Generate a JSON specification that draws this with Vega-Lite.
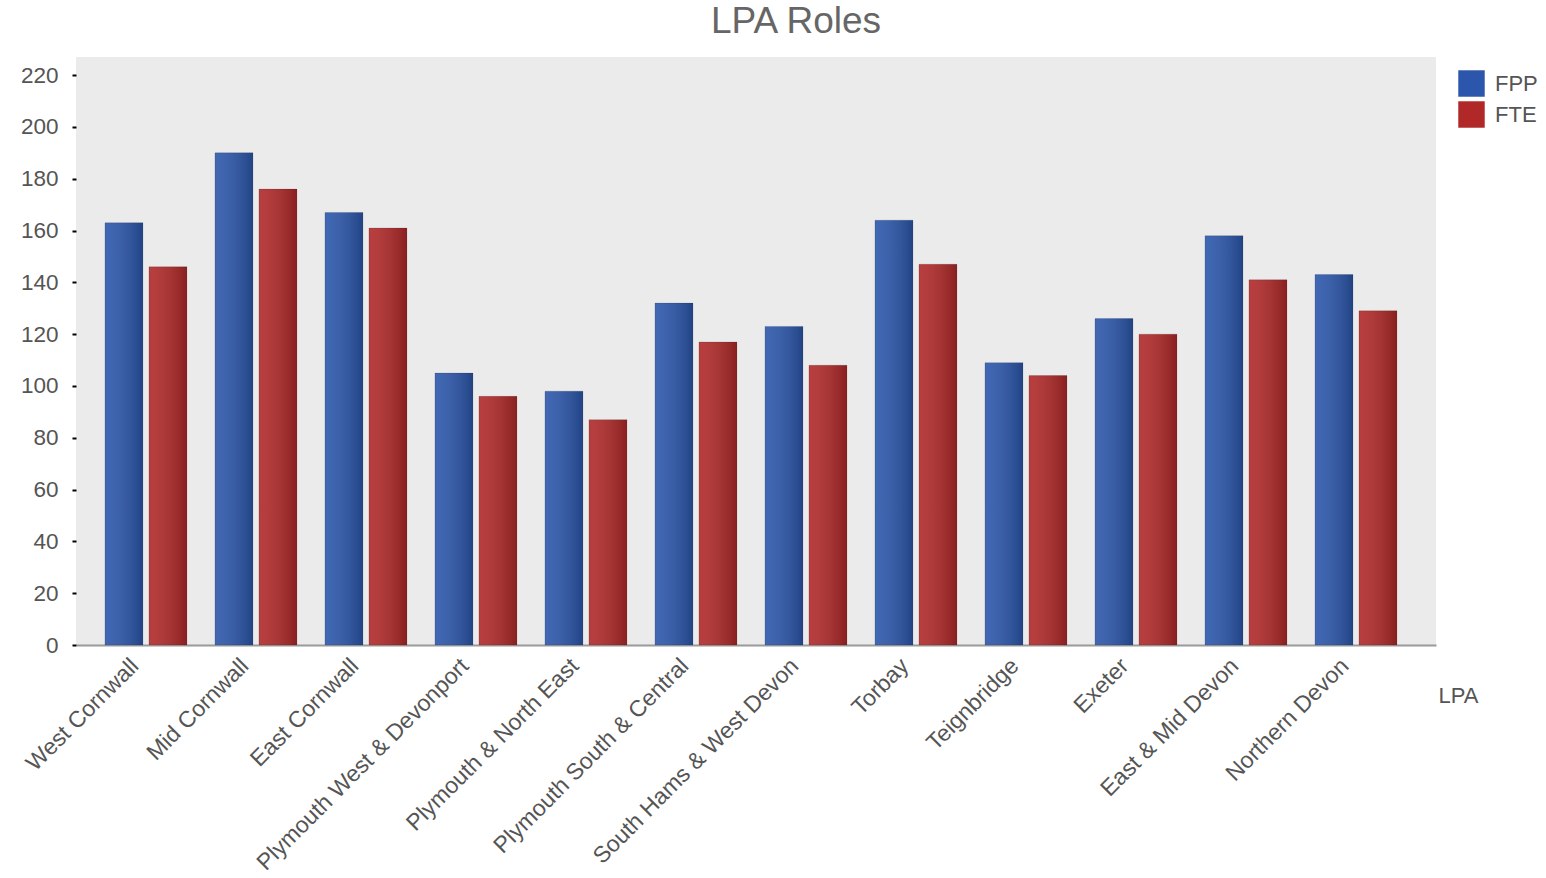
{
  "$schema": "https://vega.github.io/schema/vega-lite/v6.json",
  "description": "LPA Roles - FPP vs FTE by LPA",
  "autosize": "none",
  "width": 1360,
  "height": 588,
  "padding": {"left": 76, "top": 57, "right": 110, "bottom": 233},
  "background": "white",
  "title": {
    "text": "LPA Roles",
    "fontSize": 37,
    "fontWeight": "normal",
    "color": "#666666",
    "font": "Liberation Sans",
    "anchor": "middle",
    "baseline": "alphabetic",
    "offset": -13,
    "dx": 40
  },
  "data": {
    "values": [
      {"LPA": "West Cornwall", "Role": "FPP", "Count": 163},
      {"LPA": "West Cornwall", "Role": "FTE", "Count": 146},
      {"LPA": "Mid Cornwall", "Role": "FPP", "Count": 190},
      {"LPA": "Mid Cornwall", "Role": "FTE", "Count": 176},
      {"LPA": "East Cornwall", "Role": "FPP", "Count": 167},
      {"LPA": "East Cornwall", "Role": "FTE", "Count": 161},
      {"LPA": "Plymouth West & Devonport", "Role": "FPP", "Count": 105},
      {"LPA": "Plymouth West & Devonport", "Role": "FTE", "Count": 96},
      {"LPA": "Plymouth & North East", "Role": "FPP", "Count": 98},
      {"LPA": "Plymouth & North East", "Role": "FTE", "Count": 87},
      {"LPA": "Plymouth South & Central", "Role": "FPP", "Count": 132},
      {"LPA": "Plymouth South & Central", "Role": "FTE", "Count": 117},
      {"LPA": "South Hams & West Devon", "Role": "FPP", "Count": 123},
      {"LPA": "South Hams & West Devon", "Role": "FTE", "Count": 108},
      {"LPA": "Torbay", "Role": "FPP", "Count": 164},
      {"LPA": "Torbay", "Role": "FTE", "Count": 147},
      {"LPA": "Teignbridge", "Role": "FPP", "Count": 109},
      {"LPA": "Teignbridge", "Role": "FTE", "Count": 104},
      {"LPA": "Exeter", "Role": "FPP", "Count": 126},
      {"LPA": "Exeter", "Role": "FTE", "Count": 120},
      {"LPA": "East & Mid Devon", "Role": "FPP", "Count": 158},
      {"LPA": "East & Mid Devon", "Role": "FTE", "Count": 141},
      {"LPA": "Northern Devon", "Role": "FPP", "Count": 143},
      {"LPA": "Northern Devon", "Role": "FTE", "Count": 129}
    ]
  },
  "encoding": {
    "x": {
      "field": "LPA",
      "type": "nominal",
      "sort": null,
      "scale": {"paddingInner": 0.2545, "paddingOuter": 0.309, "align": 0.426},
      "axis": {
        "title": "LPA",
        "titleFont": "Liberation Sans",
        "titleFontSize": 22,
        "titleFontWeight": "normal",
        "titleColor": "#555555",
        "titleAlign": "left",
        "titleBaseline": "middle",
        "titleAnchor": null,
        "titleX": 1362,
        "titleY": 50,
        "labelAngle": -45,
        "labelAlign": "right",
        "labelBaseline": "middle",
        "labelPadding": 17,
        "labelOffset": -11,
        "labelFont": "Liberation Sans",
        "labelFontSize": 23,
        "labelColor": "#555555",
        "labelLimit": 400,
        "ticks": false,
        "domainColor": "#9a9a9a",
        "domainWidth": 2
      }
    },
    "xOffset": {
      "field": "Role",
      "type": "nominal",
      "scale": {"domain": ["FPP", "FTE"], "paddingInner": 0.136, "paddingOuter": 0}
    },
    "y": {
      "field": "Count",
      "type": "quantitative",
      "scale": {"domain": [0, 227], "nice": false},
      "axis": {
        "title": null,
        "values": [0, 20, 40, 60, 80, 100, 120, 140, 160, 180, 200, 220],
        "grid": false,
        "domain": false,
        "tickColor": "#000000",
        "tickSize": 4,
        "tickWidth": 2,
        "labelPadding": 14,
        "labelFont": "Liberation Sans",
        "labelFontSize": 22.5,
        "labelColor": "#555555"
      }
    }
  },
  "layer": [
    {
      "mark": {"type": "bar"},
      "encoding": {
        "color": {
          "field": "Role",
          "type": "nominal",
          "scale": {"domain": ["FPP", "FTE"], "range": ["#2b56ab", "#b02828"]},
          "legend": {
            "title": null,
            "orient": "none",
            "legendX": 1382,
            "legendY": 13,
            "symbolType": "square",
            "symbolSize": 700,
            "symbolStrokeWidth": 0,
            "rowPadding": 4,
            "labelFont": "Liberation Sans",
            "labelFontSize": 22,
            "labelColor": "#555555",
            "labelOffset": 10
          }
        }
      }
    },
    {
      "mark": {
        "type": "bar",
        "fill": {
          "gradient": "linear",
          "x1": 0, "y1": 0, "x2": 1, "y2": 0,
          "stops": [
            {"offset": 0, "color": "rgba(255,255,255,0.10)"},
            {"offset": 1, "color": "rgba(0,0,0,0.22)"}
          ]
        },
        "stroke": "rgba(0,0,0,0.12)",
        "strokeWidth": 1
      }
    }
  ],
  "config": {
    "view": {"fill": "#ebebeb", "stroke": null}
  }
}
